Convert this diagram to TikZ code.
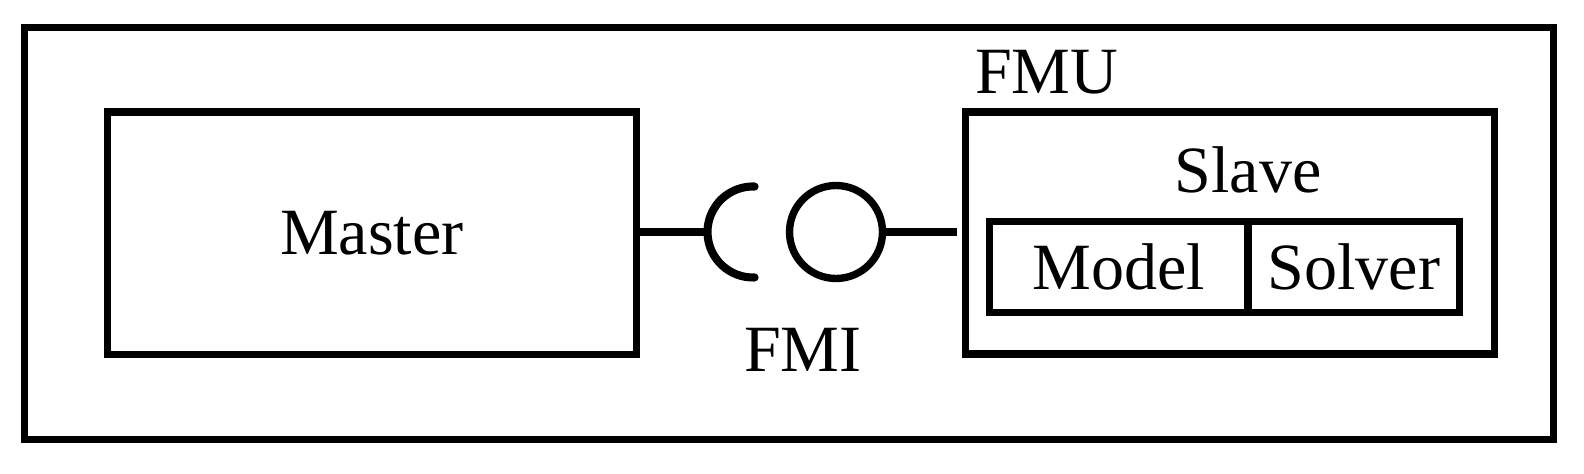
\documentclass[tikz,border=0pt]{standalone}
\usepackage{fontspec}
\setmainfont{Liberation Serif}
\begin{document}
\begin{tikzpicture}[x=0.1mm,y=-0.1mm,
  every node/.style={font=\fontsize{18.8pt}{22pt}\selectfont, inner sep=0pt, outer sep=0pt},
  box/.style={draw, line width=2.1pt, rectangle},
  conn/.style={line width=2.1pt}]
\useasboundingbox (0,0) rectangle (1584,473);
% outer frame
\node[box, minimum width=152.92mm, minimum height=41.22mm] (frame) at (789.1,233.6) {};
% master
\node[box, minimum width=52.88mm, minimum height=24.25mm] (master) at (371.9,233.25) {Master};
% slave (FMU)
\node[box, minimum width=52.9mm, minimum height=24.2mm] (slave) at (1230,233) {};
\node[anchor=base west] (fmu) at (975,93.3) {FMU};
\node (slavelbl) at (1248,170) {Slave};
\node[box, minimum width=25.85mm, minimum height=9.1mm] (model) at (1118.75,267.2) {Model};
\node[box, minimum width=21.17mm, minimum height=9.1mm] (solver) at (1353.85,267.2) {Solver};
% FMI interface
\node[draw, circle, line width=2.1pt, minimum size=9.3mm] (ball) at (836,232) {};
\coordinate (sock) at (753,232);
\coordinate (sockL) at (707.5,232);
\draw[line width=2.3pt, line cap=round] (sock) ++(88:45.5) arc[start angle=88, end angle=272, radius=45.5];
\node[anchor=base] (fmi) at (803,371.7) {FMI};
\coordinate (rend) at (957,232);
% connectors
\draw[conn] (master.east |- sockL) -- (sockL);
\draw[conn] (ball.east) -- (rend);
\end{tikzpicture}
\end{document}
